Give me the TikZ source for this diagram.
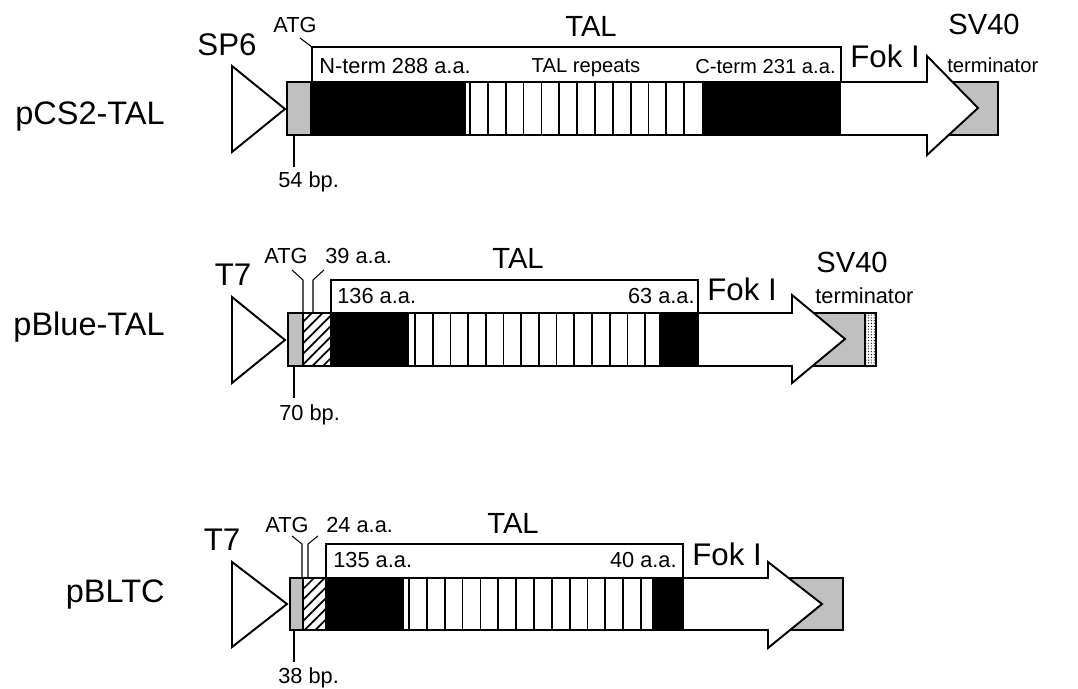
\documentclass[tikz,border=0pt]{standalone}
\usepackage{fontspec}
\setmainfont{Liberation Sans}
\usepackage{xcolor}
\definecolor{sgray}{RGB}{192,192,192}
\usetikzlibrary{patterns.meta}

\tikzset{
  plasmid/.style={font=\fontsize{18.5}{20}\selectfont,inner sep=0pt},
  promo/.style={font=\fontsize{17.8}{20}\selectfont,inner sep=0pt},
  talbig/.style={font=\fontsize{16.6}{20}\selectfont,inner sep=0pt},
  lblsm/.style={font=\fontsize{12.4}{14}\selectfont,inner sep=0pt},
  lbltn/.style={font=\fontsize{11.5}{14}\selectfont,inner sep=0pt},
  box/.style={draw,line width=1.1pt},
  brk/.style={line width=0.6pt},
  rpt/.style={line width=1pt},
  hatchbox/.style={box,fill=white,pattern={Lines[angle=45,distance=4.3pt,line width=1pt]}},
  dotbox/.style={box,fill=white,pattern={Dots[distance=1.6pt,radius=0.35pt]}},
}

\begin{document}
\begin{tikzpicture}[x=0.02cm,y=-0.02cm,line join=miter]
  \useasboundingbox (0,0) rectangle (1078,689);

  % pCS2-TAL
  \node[plasmid,anchor=base east] (nameA) at (165,125) {pCS2-TAL};
  \node[promo,anchor=base] (sp6) at (227,56) {SP6};
  \draw[box] (232,66) -- (285,109) -- (232,152) -- cycle;
  \draw[box,fill=sgray] (935,82) rectangle (998,135);
  \draw[box,fill=sgray] (287,82) rectangle (311,135);
  \draw[box,fill=black] (311,82) rectangle (465,135);
  \draw[box] (465,82) rectangle (703,135);
  \foreach \i in {0,...,12}
    \draw[rpt] ({470+17.85*\i},82) -- ++(0,53);
  \draw[box,fill=black] (703,82) rectangle (840,135);
  \draw[box,fill=white] (840,82) -- (927,82) -- (927,56) -- (978,108)
    -- (927,155) -- (927,135) -- (840,135) -- cycle;
  \draw[brk] (312,82) -- (312,47) -- (841,47) -- (841,82);
  \node[lblsm,anchor=base] (atgA) at (295,33) {ATG};
  \draw[brk] (300,38) -- (312,47);
  \node[talbig,anchor=base] (talA) at (591,37) {TAL};
  \node[lbltn,anchor=base west,font=\fontsize{12.4}{14}\selectfont] (ntA) at (319,74) {N-term 288 a.a.};
  \node[lbltn,anchor=base] (repA) at (586,73) {TAL repeats};
  \node[lbltn,anchor=base east] (ctA) at (836,74) {C-term 231 a.a.};
  \node[promo,anchor=base west] (fokA) at (850,68) {Fok I};
  \node[talbig,anchor=base west] (svA) at (948,35) {SV40};
  \node[lbltn,anchor=base west] (termA) at (947,73) {terminator};
  \draw[brk] (294,135) -- (294,167);
  \node[lblsm,anchor=base west] (bpA) at (278,188) {54 bp.};

  % pBlue-TAL
  \node[plasmid,anchor=base east] (nameB) at (165,335) {pBlue-TAL};
  \node[promo,anchor=base] (t7B) at (233,285) {T7};
  \draw[box] (232,297) -- (285,340) -- (232,383) -- cycle;
  \draw[box,fill=sgray] (810,313) rectangle (865,366);
  \draw[dotbox] (865,313) rectangle (876,366);
  \draw[box,fill=sgray] (288,313) rectangle (303,366);
  \draw[hatchbox] (303,313) rectangle (331,366);
  \draw[box,fill=black] (331,313) rectangle (408,366);
  \draw[box] (408,313) rectangle (660,366);
  \foreach \i in {0,...,13}
    \draw[rpt] ({415+17.7*\i},313) -- ++(0,53);
  \draw[box,fill=black] (660,313) rectangle (698,366);
  \draw[box,fill=white] (698,313) -- (792,313) -- (792,295) -- (845,339)
    -- (792,383) -- (792,366) -- (698,366) -- cycle;
  \draw[brk] (331,313) -- (331,280) -- (698,280) -- (698,313);
  \node[lblsm,anchor=base] (atgB) at (286,263) {ATG};
  \draw[brk] (292,270) -- (303,280) -- (303,313);
  \node[lblsm,anchor=base west] (aaB) at (325,263) {39 a.a.};
  \draw[brk] (324,270) -- (313,280) -- (313,313);
  \node[talbig,anchor=base west] (talB) at (492,268) {TAL};
  \node[lblsm,anchor=base west] (ntB) at (337,303) {136 a.a.};
  \node[lblsm,anchor=base east] (ctB) at (695,303) {63 a.a.};
  \node[promo,anchor=base west] (fokB) at (707,300) {Fok I};
  \node[talbig,anchor=base west] (svB) at (816,273) {SV40};
  \node[lblsm,anchor=base west] (termB) at (815,303) {terminator};
  \draw[brk] (294,366) -- (294,398);
  \node[lblsm,anchor=base west] (bpB) at (279,420) {70 bp.};

  % pBLTC
  \node[plasmid,anchor=base east] (nameC) at (165,602) {pBLTC};
  \node[promo,anchor=base] (t7C) at (222,550) {T7};
  \draw[box] (232,562) -- (287,604) -- (232,647) -- cycle;
  \draw[box,fill=sgray] (790,578) rectangle (843,630);
  \draw[box,fill=sgray] (290,578) rectangle (303,630);
  \draw[hatchbox] (303,578) rectangle (326,630);
  \draw[box,fill=black] (326,578) rectangle (403,630);
  \draw[box] (403,578) rectangle (653,630);
  \foreach \i in {0,...,13}
    \draw[rpt] ({409+17.85*\i},578) -- ++(0,52);
  \draw[box,fill=black] (653,578) rectangle (683,630);
  \draw[box,fill=white] (683,578) -- (768,578) -- (768,562) -- (822,604)
    -- (768,648) -- (768,630) -- (683,630) -- cycle;
  \draw[brk] (326,578) -- (326,544) -- (683,544) -- (683,578);
  \node[lblsm,anchor=base] (atgC) at (287,532) {ATG};
  \draw[brk] (292,536) -- (302,544) -- (302,578);
  \node[lblsm,anchor=base west] (aaC) at (326,532) {24 a.a.};
  \draw[brk] (318,536) -- (308,544) -- (308,578);
  \node[talbig,anchor=base west] (talC) at (487,533) {TAL};
  \node[lblsm,anchor=base west] (ntC) at (333,567) {135 a.a.};
  \node[lblsm,anchor=base east] (ctC) at (677,567) {40 a.a.};
  \node[promo,anchor=base west] (fokC) at (692,565) {Fok I};
  \draw[brk] (294,630) -- (294,662);
  \node[lblsm,anchor=base west] (bpC) at (278,683) {38 bp.};
\end{tikzpicture}
\end{document}
